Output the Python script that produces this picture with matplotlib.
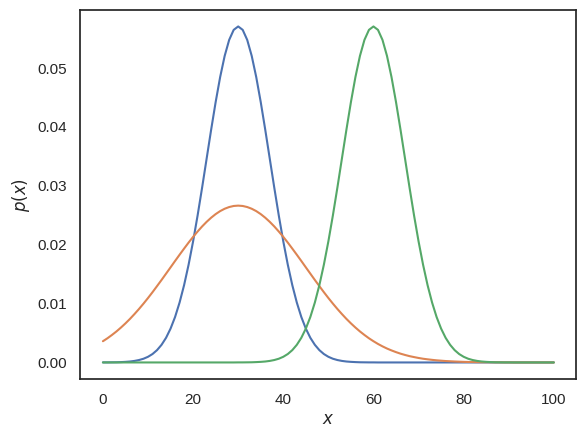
import numpy as np
import matplotlib
matplotlib.use("Agg")
import matplotlib.pyplot as plt
import seaborn as sns

sns.set_theme(style="white")
plt.rcParams["font.family"] = ["Liberation Sans", "DejaVu Sans"]

# x grid (0..100, step 1) and densities
x = np.arange(0, 101)

p_narrow_30 = [
    0.00001, 0.00001, 0.00002, 0.00003, 0.00006, 0.0001, 0.00016, 0.00026, 0.00041, 0.00063,
    0.00096, 0.00143, 0.00209, 0.00299, 0.00418, 0.00574, 0.00771, 0.01016, 0.01311, 0.01658,
    0.02054, 0.02494, 0.02966, 0.03457, 0.03947, 0.04416, 0.04841, 0.05199, 0.05471, 0.05641,
    0.05699, 0.05641, 0.05471, 0.05199, 0.04841, 0.04416, 0.03947, 0.03457, 0.02966, 0.02494,
    0.02054, 0.01658, 0.01311, 0.01016, 0.00771, 0.00574, 0.00418, 0.00299, 0.00209, 0.00143,
    0.00096, 0.00063, 0.00041, 0.00026, 0.00016, 0.0001, 0.00006, 0.00003, 0.00002, 0.00001,
    0.00001, 0, 0, 0, 0, 0, 0, 0, 0, 0,
    0, 0, 0, 0, 0, 0, 0, 0, 0, 0,
    0, 0, 0, 0, 0, 0, 0, 0, 0, 0,
    0, 0, 0, 0, 0, 0, 0, 0, 0, 0,
    0]

p_wide_30 = [
    0.0036, 0.0041, 0.00466, 0.00526, 0.00592, 0.00663, 0.00739, 0.00821, 0.00907, 0.00998,
    0.01093, 0.01192, 0.01295, 0.01399, 0.01506, 0.01613, 0.01721, 0.01827, 0.01931, 0.02033,
    0.0213, 0.02221, 0.02307, 0.02385, 0.02455, 0.02516, 0.02567, 0.02607, 0.02636, 0.02654,
    0.0266, 0.02654, 0.02636, 0.02607, 0.02567, 0.02516, 0.02455, 0.02385, 0.02307, 0.02221,
    0.0213, 0.02033, 0.01931, 0.01827, 0.01721, 0.01613, 0.01506, 0.01399, 0.01295, 0.01192,
    0.01093, 0.00998, 0.00907, 0.00821, 0.00739, 0.00663, 0.00592, 0.00526, 0.00466, 0.0041,
    0.0036, 0.00314, 0.00273, 0.00236, 0.00204, 0.00175, 0.00149, 0.00127, 0.00107, 0.00091,
    0.00076, 0.00063, 0.00053, 0.00044, 0.00036, 0.0003, 0.00024, 0.0002, 0.00016, 0.00013,
    0.0001, 0.00008, 0.00007, 0.00005, 0.00004, 0.00003, 0.00003, 0.00002, 0.00002, 0.00001,
    0.00001, 0, 0, 0, 0, 0, 0, 0, 0, 0,
    0]

p_narrow_60 = [
    0, 0, 0, 0, 0, 0, 0, 0, 0, 0,
    0, 0, 0, 0, 0, 0, 0, 0, 0, 0,
    0, 0, 0, 0, 0, 0, 0, 0, 0, 0,
    0.00001, 0.00001, 0.00002, 0.00003, 0.00006, 0.0001, 0.00016, 0.00026, 0.00041, 0.00063,
    0.00096, 0.00143, 0.00209, 0.00299, 0.00418, 0.00574, 0.00771, 0.01016, 0.01311, 0.01658,
    0.02054, 0.02494, 0.02966, 0.03457, 0.03947, 0.04416, 0.04841, 0.05199, 0.05471, 0.05641,
    0.05699, 0.05641, 0.05471, 0.05199, 0.04841, 0.04416, 0.03947, 0.03457, 0.02966, 0.02494,
    0.02054, 0.01658, 0.01311, 0.01016, 0.00771, 0.00574, 0.00418, 0.00299, 0.00209, 0.00143,
    0.00096, 0.00063, 0.00041, 0.00026, 0.00016, 0.0001, 0.00006, 0.00003, 0.00002, 0.00001,
    0.00001, 0, 0, 0, 0, 0, 0, 0, 0, 0,
    0]

fig = plt.figure(figsize=(6.4, 4.8), dpi=100)
plt.plot(x, p_narrow_30)
plt.plot(x, p_wide_30)
plt.plot(x, p_narrow_60)
plt.xlabel("$x$")
plt.ylabel("$p(x)$")
plt.savefig("out.png", bbox_inches="tight")
